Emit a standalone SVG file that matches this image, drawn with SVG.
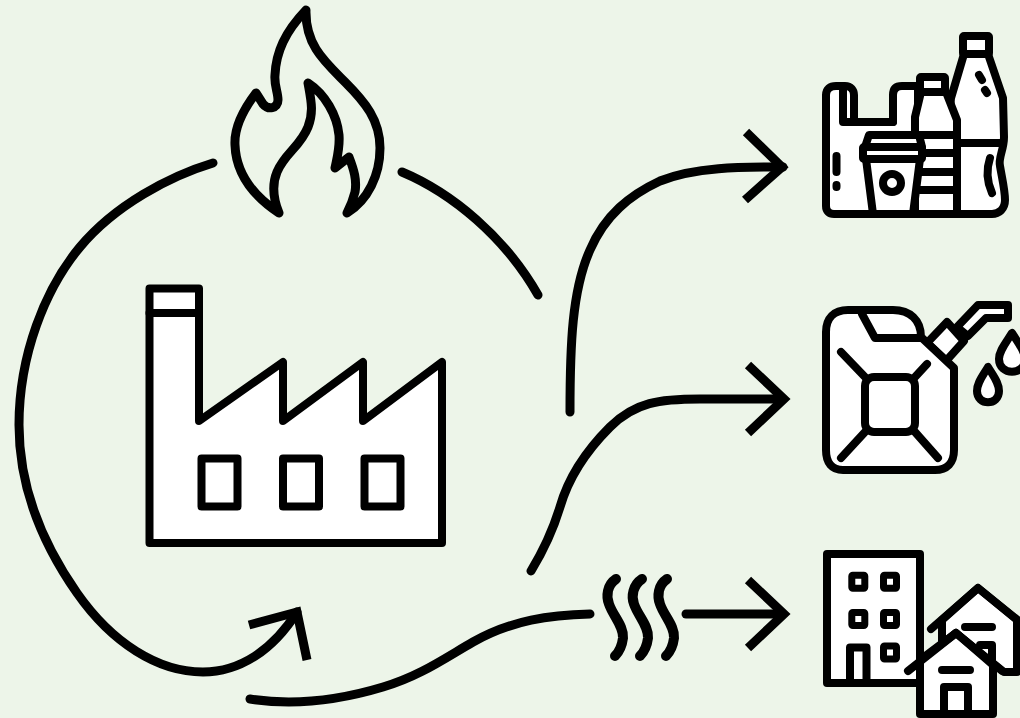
<svg xmlns="http://www.w3.org/2000/svg" width="1020" height="718" viewBox="0 0 1020 718">
<style>
.l{fill:none;stroke:#000;stroke-width:9;stroke-linecap:round;stroke-linejoin:round}
.h{fill:none;stroke:#000;stroke-width:10;stroke-linecap:round;stroke-linejoin:round}
.a{fill:none;stroke:#000;stroke-width:9;stroke-linejoin:miter;stroke-miterlimit:6}
.w{fill:#fff;stroke:#000;stroke-linecap:round;stroke-linejoin:round;stroke-width:8}
.n{fill:none;stroke:#000;stroke-linecap:round;stroke-linejoin:round;stroke-width:8}
.s{fill:#fff;stroke:#000;stroke-linejoin:round;stroke-width:7}
</style>
<rect width="1020" height="718" fill="#edf5e9"/>
<g id="connectors">
<path class="l" d="M213 163C170 176 115 205 80 247C45 289 19 355 19 425C19 487 42 543 77 593C112 643 158 672 203 672C240 672 273 650 297 612"/>
<path class="a" d="M249 625L297 612L307 660"/>
<path class="l" d="M402 172C452 193 505 237 538 295"/>
<path class="l" d="M570 412C570 345 572 290 590 250C605 215 630 195 660 181C695 167 740 167 783 167"/>
<path class="a" d="M746 132L782 167L745 200"/>
<path class="l" d="M531 571C545 548 553 530 560 507C570 472 590 447 610 427C635 402 660 399 700 399L783 399"/>
<path class="a" d="M748 365L784 399L748 433"/>
<path class="l" d="M250 699C295 706 340 700 383 687C420 676 445 658 473 642C512 620 550 615 590 614"/>
<path class="l" d="M686 614H782"/>
<path class="a" d="M748 580L784 614L748 648"/>
</g>
<g id="heat">
<path class="h" d="M616 579C607 585 606 596 609 604C613 616 624 626 623 638C622 646 619 652 615 656"/>
<path class="h" d="M642 579C633 585 631 596 634 604C638 616 649 626 648 638C647 646 644 652 640 656"/>
<path class="h" d="M667 579C658 585 657 596 660 604C664 616 675 626 674 638C673 646 670 652 666 656"/>
</g>
<g id="flame">
<path class="l" d="M306 10C285 32 276 52 275 75C274 85 278 92 278 100C278 109 268 110 263 104L256 93C243 110 234 127 235 145C236 175 255 197 279 213C273 198 272 184 277 172C285 153 300 147 308 127C314 112 311 100 308 83C325 94 337 115 339 135C340 148 337 158 335 168L349 157C354 170 357 180 355 192C353 200 350 207 347 213C368 200 380 175 380 148C380 120 365 102 345 82C325 62 305 45 306 10Z"/>
</g>
<g id="factory">
<path class="w" d="M149.500 288.500H199V421L283 362V421L363 362V421L442 362V543H149.500Z"/>
<path class="n" d="M149.500 313H199"/>
<rect class="n" x="201.500" y="458.500" width="36" height="48"/>
<rect class="n" x="283" y="458.500" width="36" height="48"/>
<rect class="n" x="364.500" y="458.500" width="36" height="48"/>
</g>
<g id="plastics">
<path class="w" d="M826 95C826 89 830 86 836 86H845C851 86 854 90 854 95V122H893V95C893 89 896 86 902 86H918V214H834C829 214 826 211 826 206Z"/>
<path class="n" d="M843 90V122H893"/>
<path class="w" d="M964 54H988L1003 98L1004 137C1004 150 998 158 1000 166C1002 178 1005 190 1005 200C1005 209 999 214 992 214H950V110L951 98Z"/>
<rect class="w" x="963" y="36" width="26" height="18" rx="1"/>
<path class="w" d="M921 92H946L957 120V214H915V117Z"/>
<rect class="w" x="920" y="77" width="25" height="15" rx="1"/>
<path class="n" d="M957 143H1003M920 135H957M920 153H957M920 172H957M920 190H957"/>
<path class="w" d="M869 135H919L922 147H865Z"/>
<path class="w" d="M866 159H920L913 214H873Z"/>
<rect class="w" x="863" y="147" width="59" height="12" rx="1"/>
<circle class="n" cx="892" cy="183" r="9"/>
<path class="n" d="M836.500 156V172M836.500 185V187M979 75L982 80M985 90L987 93M990 158C986 170 987 182 992 193"/>
</g>
<g id="fuel">
<path class="w" d="M927 343L947 322L964 341L946 361Z"/>
<path class="w" d="M957 327L978 305H1008V318H986L968 336Z"/>
<path class="w" d="M848 310H893C910 310 921 320 921 337L954 368V450C954 463 947 470 935 470H843C832 470 826 463 826 450V332C826 318 834 310 848 310Z"/>
<path class="n" d="M862 314L875 338H921"/>
<rect class="n" x="865" y="377" width="50" height="55" rx="9"/>
<path class="n" d="M841 352L865 377M927 364L915 377M841 458L865 432M938 458L915 432"/>
<path class="w" d="M1012 333C1005 344 999 351 999 359C999 376 1025 376 1025 359C1025 351 1019 344 1012 333Z"/>
<path class="w" d="M988 367C982 377 977 383 977 391C977 406 999 406 999 391C999 383 994 377 988 367Z"/>
</g>
<g id="buildings">
<rect class="w" x="827" y="554" width="93" height="129"/>
<rect class="s" x="851.800" y="575.200" width="13" height="13" rx="1"/>
<rect class="s" x="883.500" y="575.200" width="13" height="13" rx="1"/>
<rect class="s" x="851.800" y="612.500" width="13" height="13" rx="1"/>
<rect class="s" x="883.500" y="612.500" width="13" height="13" rx="1"/>
<rect class="s" x="883.500" y="646" width="13" height="13" rx="1"/>
<path class="n" d="M850 683V647.500H866.500V683"/>
<path class="w" d="M942 620L978 588L1017 620V672H1004L956 633L942 645Z"/>
<path class="n" d="M931 629L978 588L1020 622M965 627H992M980 645H992V660"/>
<path class="w" d="M920 660L956 633L993 665V714H920Z"/>
<path class="n" d="M908 671L956 633L1002 671M942 670H970M944 714V687H968V714"/>
</g>
</svg>
